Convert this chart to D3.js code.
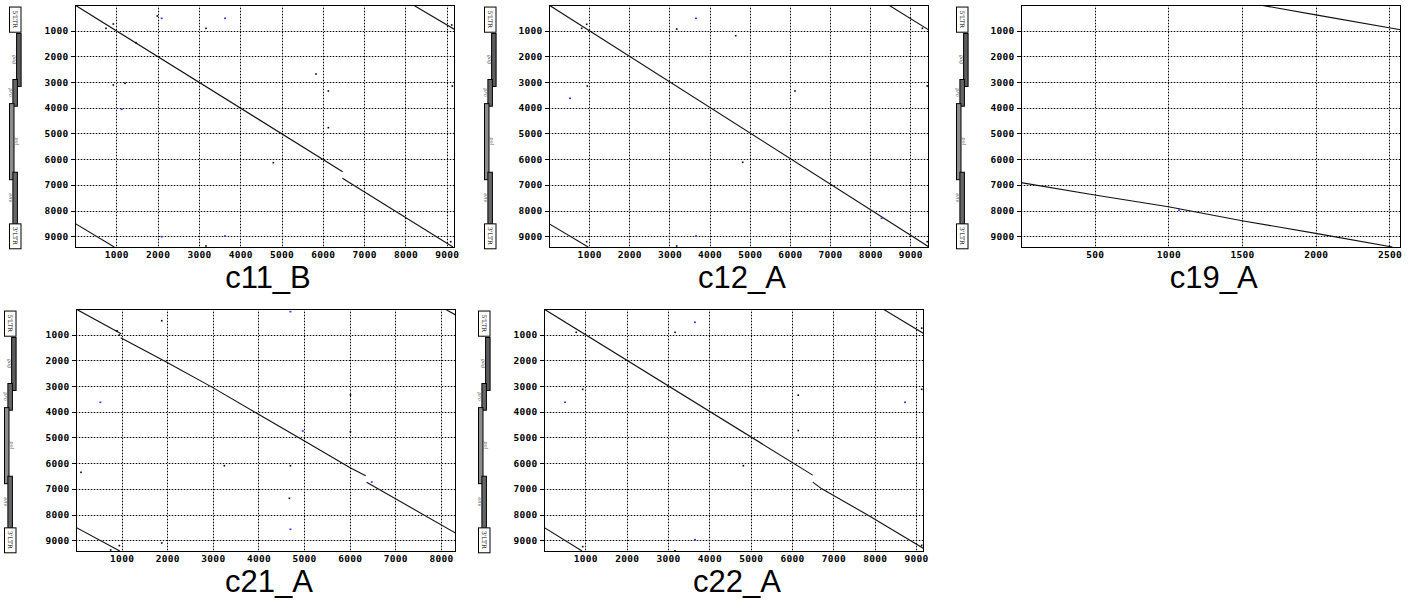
<!DOCTYPE html>
<html>
<head>
<meta charset="utf-8">
<script src="https://cdn.jsdelivr.net/npm/d3@7"></script>
<style>
  html, body { margin: 0; padding: 0; background: #fff; }
  svg { display: block; }
  .tick-label { font-family: "DejaVu Sans Mono", monospace; font-size: 9.5px; font-weight: bold; letter-spacing: 0.3px; fill: #000; }
  .title { font-family: "Liberation Sans", Arial, sans-serif; font-size: 31px; fill: #000; }
  .feat-label { font-family: "DejaVu Serif", serif; font-size: 5px; font-style: italic; fill: #555; }
  .ltr-label { font-family: "DejaVu Serif", serif; font-size: 6px; fill: #000; }
</style>
</head>
<body>
<div id="content"></div>
<script>
// genome (y axis) shared by every panel
var yLength = 9420;
var yTicks = [1000, 2000, 3000, 4000, 5000, 6000, 7000, 8000, 9000];

var featureNames = ["5'LTR", "gag", "pro", "pol", "env", "3'LTR"];
var featureStarts = [60, 1090, 2880, 3820, 6490, 8500];
var featureEnds = [1040, 3150, 3920, 6780, 8520, 9470];
var featureLanes = [0, 3, 2, 1, 2, 0];   // 0 = LTR box

// panels
var panelNames = ["c11_B", "c12_A", "c19_A", "c21_A", "c22_A"];
var xLengths = [9200, 9465, 2575, 8330, 9192];
var xTicks9k = [1000, 2000, 3000, 4000, 5000, 6000, 7000, 8000, 9000];
var xTicks2k5 = [500, 1000, 1500, 2000, 2500];
var xTicks8k = [1000, 2000, 3000, 4000, 5000, 6000, 7000, 8000];

// match segments (polylines, [x, y] in bp)
var c11Lines = [
    [[0, 0], [6480, 6490]],
    [[6475, 6745], [9150, 9420]],
    [[8190, 0], [9200, 960]],
    [[0, 8500], [950, 9420]]
];
var c11Black = [[1993, 428], [3172, 908], [928, 740], [750, 908], [1477, 1467], [928, 3114], [1211, 3049],
    [5835, 2686], [6134, 3348], [6134, 4776], [4802, 6138], [9136, 3153], [9120, 778], [9097, 9213], [3172, 9380]];
var c11Blue = [[2099, 519], [3632, 519], [1130, 4061], [2099, 9018], [3632, 8992]];

var c12Lines = [
    [[0, 0], [9465, 9420]],
    [[8460, 0], [9465, 975]],
    [[0, 8510], [975, 9420]]
];
var c12Black = [[3181, 934], [4650, 1195], [938, 752], [814, 908], [954, 3153], [6127, 3348], [9422, 3153],
    [4824, 6123], [3181, 9381], [938, 9213], [9422, 9213], [9300, 908]];
var c12Blue = [[3661, 519], [523, 3632], [8286, 8303], [3661, 8992]];

var c19Lines = [
    [[1620, 0], [2010, 395], [2575, 965]],
    [[0, 6915], [500, 7395], [1000, 7855], [1500, 8395], [2000, 8890], [2520, 9420]]
];
var c19Black = [];
var c19Blue = [[1072, 7980]];

var c21Lines = [
    [[0, 0], [990, 960]],
    [[980, 1120], [2000, 2080], [3000, 3060], [4000, 4100], [5000, 5125], [6000, 6170], [6350, 6490]],
    [[6370, 6745], [8330, 8730]],
    [[8090, 0], [8330, 240]],
    [[0, 8500], [960, 9420]]
];
var c21Black = [[1879, 455], [900, 850], [950, 1010], [6016, 3348], [6016, 4776], [3252, 6100], [4700, 6100],
    [110, 6357], [4678, 7369], [1879, 9107], [950, 9210], [760, 9380]];
var c21Blue = [[4700, 105], [533, 3632], [4971, 4749], [6484, 6734], [4700, 8575]];

var c22Lines = [
    [[0, 0], [6500, 6467]],
    [[6500, 6740], [6720, 7000], [7810, 8000], [8850, 9000], [9192, 9330]],
    [[8200, 0], [9192, 960]],
    [[0, 8500], [920, 9420]]
];
var c22Black = [[3170, 908], [779, 908], [936, 3127], [6151, 3355], [6151, 4731], [4822, 6100], [9136, 3127],
    [9136, 745], [3170, 9410], [9136, 9200], [936, 9250]];
var c22Blue = [[3652, 518], [508, 3632], [8732, 3632], [3652, 8980]];

var dotplot = (function () {

    "use strict";

    var W = 1410, H = 602;

    // frame boxes of each panel in page pixels
    var layout = [
        {left: 75, right: 455, top: 5, bottom: 247, strip: 9},
        {left: 549, right: 929, top: 5, bottom: 247, strip: 484},
        {left: 1021, right: 1400.5, top: 5, bottom: 247, strip: 956},
        {left: 76, right: 456, top: 309, bottom: 551, strip: 4},
        {left: 544, right: 924, top: 309, bottom: 551, strip: 478}
    ];

    var panelData = [
        {ticks: xTicks9k, lines: c11Lines, black: c11Black, blue: c11Blue},
        {ticks: xTicks9k, lines: c12Lines, black: c12Black, blue: c12Blue},
        {ticks: xTicks2k5, lines: c19Lines, black: c19Black, blue: c19Blue},
        {ticks: xTicks8k, lines: c21Lines, black: c21Black, blue: c21Blue},
        {ticks: xTicks9k, lines: c22Lines, black: c22Black, blue: c22Blue}
    ];

    var laneX = [0, 0, 3.4, 7.1],
        laneW = 4.5,
        laneFill = ["#fff", "#8c8c8c", "#666", "#5c5c5c"];

    /* genome map drawn along the y axis */

    function drawStrip(g, y, x0) {
        var feats = featureNames.map(function (n, i) {
            return {name: n, s: featureStarts[i], e: featureEnds[i], lane: featureLanes[i]};
        });

        var boxes = g.selectAll("g.feat")
            .data(feats)
            .enter()
            .append("g")
            .attr("class", "feat");

        boxes.append("rect")
            .attr("x", function (d) { return d.lane === 0 ? x0 + 0.5 : x0 + laneX[d.lane] + 0.5; })
            .attr("y", function (d) { return y(d.s) + 0.5; })
            .attr("width", function (d) { return d.lane === 0 ? 11.5 : laneW; })
            .attr("height", function (d) { return y(d.e) - y(d.s); })
            .attr("fill", function (d) { return laneFill[d.lane]; })
            .attr("stroke", "#000")
            .attr("stroke-width", 1);

        // labels, rotated along the strip
        boxes.append("text")
            .attr("class", function (d) { return d.lane === 0 ? "ltr-label" : "feat-label"; })
            .attr("text-anchor", "middle")
            .attr("transform", function (d) {
                var cx;
                if (d.lane === 0) {
                    cx = x0 + 4.2;
                } else if (d.lane === 1) {
                    cx = x0 + laneX[1] + laneW + 1.5;
                } else {
                    cx = x0 + laneX[d.lane] - 3.5;
                }
                return "translate(" + cx + "," + ((y(d.s) + y(d.e)) / 2) + ") rotate(90)";
            })
            .text(function (d) { return d.name; });
    }

    /* one dot plot panel */

    function drawPanel(svg, i) {
        var box = layout[i],
            pd = panelData[i],
            g = svg.append("g").attr("class", "panel");

        var x = d3.scaleLinear().domain([0, xLengths[i]]).range([box.left, box.right]),
            y = d3.scaleLinear().domain([0, yLength]).range([box.top, box.bottom]);

        // grid: light solid line under a black dotted one
        function vGrid(color, dash) {
            g.append("g").selectAll("line")
                .data(pd.ticks)
                .enter()
                .append("line")
                .attr("x1", function (d) { return Math.round(x(d)) + 0.5; })
                .attr("x2", function (d) { return Math.round(x(d)) + 0.5; })
                .attr("y1", box.top)
                .attr("y2", box.bottom)
                .attr("stroke", color)
                .attr("stroke-dasharray", dash)
                .attr("shape-rendering", "crispEdges");
        }

        function hGrid(color, dash) {
            g.append("g").selectAll("line")
                .data(yTicks)
                .enter()
                .append("line")
                .attr("x1", box.left)
                .attr("x2", box.right)
                .attr("y1", function (d) { return Math.round(y(d)) + 0.5; })
                .attr("y2", function (d) { return Math.round(y(d)) + 0.5; })
                .attr("stroke", color)
                .attr("stroke-dasharray", dash)
                .attr("shape-rendering", "crispEdges");
        }

        vGrid("#b8b8b8", null);
        hGrid("#b8b8b8", null);
        vGrid("#000", "1,2");
        hGrid("#000", "1,2");

        // match lines
        var line = d3.line()
            .x(function (d) { return x(d[0]); })
            .y(function (d) { return y(d[1]); });

        var clipId = "clip" + i;
        svg.append("clipPath").attr("id", clipId)
            .append("rect")
            .attr("x", box.left).attr("y", box.top)
            .attr("width", box.right - box.left).attr("height", box.bottom - box.top);

        var marks = g.append("g").attr("clip-path", "url(#" + clipId + ")");

        marks.selectAll("path")
            .data(pd.lines)
            .enter()
            .append("path")
            .attr("d", line)
            .attr("fill", "none")
            .attr("stroke", "#111")
            .attr("stroke-width", 1.1);

        marks.selectAll("rect.bk")
            .data(pd.black)
            .enter()
            .append("rect")
            .attr("class", "bk")
            .attr("x", function (d) { return x(d[0]) - 0.8; })
            .attr("y", function (d) { return y(d[1]) - 0.8; })
            .attr("width", 1.6)
            .attr("height", 1.6)
            .attr("fill", "#000");

        marks.selectAll("rect.bl")
            .data(pd.blue)
            .enter()
            .append("rect")
            .attr("class", "bl")
            .attr("x", function (d) { return x(d[0]) - 1; })
            .attr("y", function (d) { return y(d[1]) - 0.8; })
            .attr("width", 2)
            .attr("height", 1.6)
            .attr("fill", "#2f3fe8");

        // frame
        g.append("rect")
            .attr("x", box.left + 0.5)
            .attr("y", box.top + 0.5)
            .attr("width", box.right - box.left - 1)
            .attr("height", box.bottom - box.top)
            .attr("fill", "none")
            .attr("stroke", "#000")
            .attr("shape-rendering", "crispEdges");

        // axes
        var yAxis = d3.axisLeft(y).tickValues(yTicks).tickSize(5).tickPadding(2).tickFormat(d3.format("d"));
        var ya = g.append("g")
            .attr("transform", "translate(" + (box.left + 0.5) + ",0)")
            .call(yAxis);
        ya.select(".domain").remove();
        ya.selectAll("line").attr("stroke", "#000").attr("shape-rendering", "crispEdges");
        ya.selectAll("text").attr("class", "tick-label").attr("font-family", null).attr("font-size", null);

        var xAxis = d3.axisBottom(x).tickValues(pd.ticks).tickSize(0).tickPadding(4).tickFormat(d3.format("d"));
        var xa = g.append("g")
            .attr("transform", "translate(0," + box.bottom + ")")
            .call(xAxis);
        xa.select(".domain").remove();
        xa.selectAll("text").attr("class", "tick-label").attr("font-family", null).attr("font-size", null);

        // title
        g.append("text")
            .attr("class", "title")
            .attr("x", (box.left + box.right) / 2 + 3)
            .attr("y", box.bottom + 41)
            .attr("text-anchor", "middle")
            .text(panelNames[i]);

        drawStrip(g.append("g"), y, box.strip);
    }

    function render() {
        var svg = d3.select("#content").append("svg")
            .attr("width", W)
            .attr("height", H);

        svg.append("rect").attr("width", W).attr("height", H).attr("fill", "#fff");

        for (var i = 0; i < panelNames.length; i++) {
            drawPanel(svg, i);
        }
    }

    return {
        render: render
    };

}());

dotplot.render();
</script>
</body>
</html>
